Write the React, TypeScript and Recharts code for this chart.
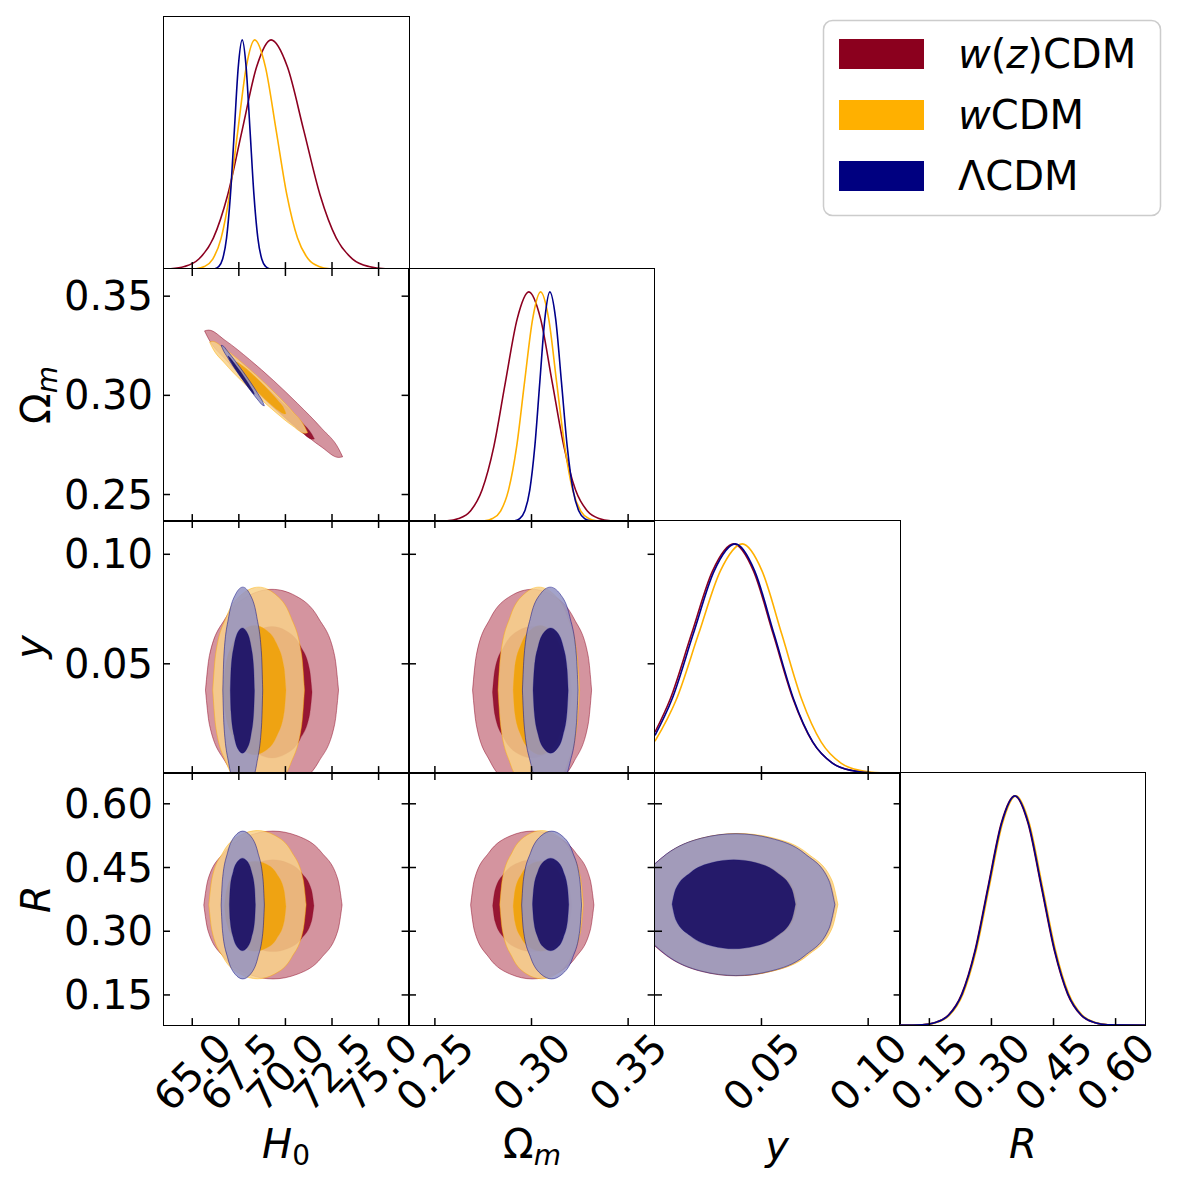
import React from 'react';
import { ComposedChart, Area, Line, XAxis, YAxis } from 'recharts';

const FONT = "'DejaVu Sans', sans-serif";
const TICK_FONT = 40;
const TITLE_FONT = 40;

// model colours
const RED = '#8c0020';
const ORANGE = '#ffb000';
const NAVY = '#00008b';

const FILL_OUTER: Record<string, string> = { red: '#cd818e', orange: '#f8d189', blue: '#9393c2' };
const FILL_INNER: Record<string, string> = { red: '#8c0020', orange: '#f0a000', blue: '#0f055f' };
const EDGE: Record<string, string> = { red: RED, orange: ORANGE, blue: '#000080' };
const LINE: Record<string, string> = { red: RED, orange: ORANGE, blue: NAVY };

// grid geometry (page pixels)
const COL_LEFT = [163.3, 408.9, 654.5, 900.1];
const ROW_TOP = [16.5, 268.7, 520.9, 773.1];
const PLOT_W = 245.6;
const PLOT_H = 252.1;
const PAD = 3;
const TICK = 7;
const FRAME_W = 1.6;

// parameter ranges and ticks
const H0_DOMAIN = [63.43, 76.61];
const OM_DOMAIN = [0.2366, 0.3637];
const Y_DOMAIN = [0.0001, 0.1152];
const R_DOMAIN = [0.079, 0.6725];
const PDF_DOMAIN = [0, 1.1];

const H0_TICKS = [65, 67.5, 70, 72.5, 75];
const OM_TICKS = [0.25, 0.3, 0.35];
const Y_TICKS = [0.05, 0.1];
const R_TICKS = [0.15, 0.3, 0.45, 0.6];

// 1D marginals, [value, relative density]
const h0Red = [[63.43, 0], [63.8, 0.0015], [64.58, 0.0111], [65.355, 0.0439], [66.13, 0.1353], [66.905, 0.3247], [67.68, 0.6065], [68.455, 0.8825], [69.23, 1], [70.105, 0.8825], [70.98, 0.6065], [71.855, 0.3247], [72.73, 0.1353], [73.605, 0.0439], [74.48, 0.0111], [75.36, 0.0015], [76.6, 0]];
const h0Orange = [[64.9, 0], [65.2, 0.0015], [65.65, 0.0111], [66.1, 0.0439], [66.55, 0.1353], [67.0, 0.3247], [67.45, 0.6065], [67.9, 0.8825], [68.35, 1], [68.925, 0.8825], [69.5, 0.6065], [70.075, 0.3247], [70.65, 0.1353], [71.225, 0.0439], [71.8, 0.0111], [72.375, 0.0015], [72.9, 0]];
const h0Blue = [[66.0, 0], [66.21, 0.0015], [66.42, 0.0111], [66.63, 0.0439], [66.84, 0.1353], [67.05, 0.3247], [67.26, 0.6065], [67.47, 0.8825], [67.68, 1], [67.89, 0.8825], [68.1, 0.6065], [68.31, 0.3247], [68.52, 0.1353], [68.73, 0.0439], [68.94, 0.0111], [69.15, 0.0015], [69.36, 0]];

const omRed = [[0.249, 0], [0.2563, 0.0015], [0.2623, 0.0111], [0.2684, 0.0439], [0.2744, 0.1353], [0.2805, 0.3247], [0.2865, 0.6065], [0.2926, 0.8825], [0.2986, 1], [0.3047, 0.8825], [0.3107, 0.6065], [0.3168, 0.3247], [0.3228, 0.1353], [0.3289, 0.0439], [0.3349, 0.0111], [0.341, 0.0015], [0.348, 0]];
const omOrange = [[0.2715, 0], [0.2757, 0.0015], [0.2798, 0.0111], [0.284, 0.0439], [0.2881, 0.1353], [0.2923, 0.3247], [0.2964, 0.6065], [0.3006, 0.8825], [0.3047, 1], [0.3089, 0.8825], [0.313, 0.6065], [0.3172, 0.3247], [0.3213, 0.1353], [0.3255, 0.0439], [0.3296, 0.0111], [0.3338, 0.0015], [0.338, 0]];
const omBlue = [[0.289, 0], [0.2913, 0.0015], [0.2939, 0.0111], [0.2965, 0.0439], [0.2991, 0.1353], [0.3017, 0.3247], [0.3043, 0.6065], [0.3069, 0.8825], [0.3095, 1], [0.3125, 0.8825], [0.3155, 0.6065], [0.3185, 0.3247], [0.3215, 0.1353], [0.3245, 0.0439], [0.3275, 0.0111], [0.3305, 0.0015], [0.3335, 0]];

const yRed = [[0.0001, 0.179], [0.0073, 0.3247], [0.0172, 0.6065], [0.0271, 0.8825], [0.037, 1], [0.04625, 0.8825], [0.0555, 0.6065], [0.06475, 0.3247], [0.074, 0.1353], [0.08325, 0.0439], [0.0925, 0.0111], [0.10175, 0.0015], [0.1152, 0]];
const yOrange = [[0.0001, 0.139], [0.01025, 0.3247], [0.0205, 0.6065], [0.03075, 0.8825], [0.041, 1], [0.05025, 0.8825], [0.0595, 0.6065], [0.06875, 0.3247], [0.078, 0.1353], [0.08725, 0.0439], [0.0965, 0.0111], [0.10575, 0.0015], [0.1152, 0]];
const yBlue = [[0.0001, 0.165], [0.00815, 0.3247], [0.018, 0.6065], [0.02785, 0.8825], [0.0377, 1], [0.0468, 0.8825], [0.0559, 0.6065], [0.065, 0.3247], [0.0741, 0.1353], [0.0832, 0.0439], [0.0923, 0.0111], [0.1014, 0.0015], [0.1152, 0]];

const rRed = [[0.079, 0], [0.132, 0.0015], [0.164, 0.0111], [0.196, 0.0439], [0.228, 0.1353], [0.26, 0.3247], [0.292, 0.6065], [0.324, 0.8825], [0.356, 1], [0.388, 0.8825], [0.42, 0.6065], [0.452, 0.3247], [0.484, 0.1353], [0.516, 0.0439], [0.548, 0.0111], [0.58, 0.0015], [0.6725, 0]];
const rOrange = [[0.079, 0], [0.135, 0.0015], [0.167, 0.0111], [0.199, 0.0439], [0.231, 0.1353], [0.263, 0.3247], [0.295, 0.6065], [0.327, 0.8825], [0.359, 1], [0.391, 0.8825], [0.423, 0.6065], [0.455, 0.3247], [0.487, 0.1353], [0.519, 0.0439], [0.551, 0.0111], [0.583, 0.0015], [0.6725, 0]];
const rBlue = [[0.079, 0], [0.133, 0.0015], [0.165, 0.0111], [0.197, 0.0439], [0.229, 0.1353], [0.261, 0.3247], [0.293, 0.6065], [0.325, 0.8825], [0.357, 1], [0.389, 0.8825], [0.421, 0.6065], [0.453, 0.3247], [0.485, 0.1353], [0.517, 0.0439], [0.549, 0.0111], [0.581, 0.0015], [0.6725, 0]];

// 2D credible regions, [x, lower, upper] of each 68% / 95% contour
const omH0RedOuter = [[65.66, 0.3325, 0.3325], [65.88, 0.3284, 0.3329], [66.77, 0.3183, 0.3277], [68.07, 0.3057, 0.3181], [69.37, 0.2942, 0.3074], [70.66, 0.2834, 0.2958], [71.96, 0.2738, 0.2832], [72.85, 0.2687, 0.2732], [73.07, 0.269, 0.269]];
const omH0RedInner = [[67.18, 0.3161, 0.3161], [67.31, 0.3138, 0.3162], [67.84, 0.3079, 0.3129], [68.6, 0.3004, 0.307], [69.37, 0.2936, 0.3006], [70.14, 0.2871, 0.2937], [70.9, 0.2812, 0.2862], [71.43, 0.2779, 0.2803], [71.56, 0.278, 0.278]];
const omH0OrangeOuter = [[65.93, 0.3269, 0.3269], [66.09, 0.3238, 0.3272], [66.72, 0.3164, 0.3236], [67.64, 0.3073, 0.3167], [68.56, 0.2991, 0.3091], [69.48, 0.2914, 0.3008], [70.4, 0.2845, 0.2917], [71.03, 0.2809, 0.2843], [71.19, 0.2812, 0.2812]];
const omH0OrangeInner = [[67.27, 0.3165, 0.3165], [67.35, 0.3146, 0.3168], [67.68, 0.3103, 0.3151], [68.17, 0.3051, 0.3113], [68.65, 0.3004, 0.307], [69.13, 0.2961, 0.3023], [69.62, 0.2923, 0.2971], [69.95, 0.2906, 0.2928], [70.03, 0.2909, 0.2909]];
const omH0BlueOuter = [[66.55, 0.3252, 0.3252], [66.62, 0.3236, 0.3251], [66.9, 0.319, 0.3222], [67.3, 0.3132, 0.3174], [67.71, 0.3078, 0.3122], [68.12, 0.3025, 0.3067], [68.52, 0.2977, 0.3009], [68.8, 0.2949, 0.2964], [68.87, 0.2947, 0.2947]];
const omH0BlueInner = [[66.91, 0.3199, 0.3199], [66.95, 0.3189, 0.3197], [67.12, 0.3161, 0.3179], [67.37, 0.3124, 0.3148], [67.63, 0.3089, 0.3115], [67.88, 0.3056, 0.308], [68.13, 0.3025, 0.3043], [68.3, 0.3007, 0.3015], [68.34, 0.3005, 0.3005]];

const yH0RedOuter = [[65.71, 0.038, 0.038], [65.92, 0.0223, 0.0537], [66.78, 0.0052, 0.0708], [68.03, -0.0051, 0.0811], [69.28, -0.008, 0.084], [70.53, -0.0051, 0.0811], [71.78, 0.0052, 0.0708], [72.64, 0.0223, 0.0537], [72.85, 0.038, 0.038]];
const yH0RedInner = [[67.13, 0.037, 0.037], [67.26, 0.0268, 0.0472], [67.78, 0.0156, 0.0584], [68.53, 0.0089, 0.0651], [69.28, 0.007, 0.067], [70.03, 0.0089, 0.0651], [70.79, 0.0156, 0.0584], [71.3, 0.0268, 0.0472], [71.43, 0.037, 0.037]];
const yH0OrangeOuter = [[66.1, 0.038, 0.038], [66.25, 0.022, 0.054], [66.84, 0.0044, 0.0716], [67.7, -0.006, 0.082], [68.56, -0.009, 0.085], [69.42, -0.006, 0.082], [70.28, 0.0044, 0.0716], [70.87, 0.022, 0.054], [71.02, 0.038, 0.038]];
const yH0OrangeInner = [[66.67, 0.038, 0.038], [66.77, 0.0279, 0.0481], [67.17, 0.0169, 0.0591], [67.76, 0.0104, 0.0656], [68.35, 0.0085, 0.0675], [68.94, 0.0104, 0.0656], [69.53, 0.0169, 0.0591], [69.93, 0.0279, 0.0481], [70.03, 0.038, 0.038]];
const yH0BlueOuter = [[66.64, 0.038, 0.038], [66.7, 0.022, 0.054], [66.96, 0.0044, 0.0716], [67.34, -0.006, 0.082], [67.71, -0.009, 0.085], [68.08, -0.006, 0.082], [68.46, 0.0044, 0.0716], [68.72, 0.022, 0.054], [68.78, 0.038, 0.038]];
const yH0BlueInner = [[67.04, 0.0378, 0.0378], [67.08, 0.0281, 0.0476], [67.24, 0.0174, 0.0582], [67.46, 0.011, 0.0646], [67.69, 0.0092, 0.0664], [67.92, 0.011, 0.0646], [68.15, 0.0174, 0.0582], [68.3, 0.0281, 0.0476], [68.34, 0.0378, 0.0378]];

const yOmRedOuter = [[0.2695, 0.038, 0.038], [0.2714, 0.0223, 0.0537], [0.2787, 0.0052, 0.0708], [0.2895, -0.0051, 0.0811], [0.3003, -0.008, 0.084], [0.3111, -0.0051, 0.0811], [0.3219, 0.0052, 0.0708], [0.3293, 0.0223, 0.0537], [0.3311, 0.038, 0.038]];
const yOmRedInner = [[0.2798, 0.037, 0.037], [0.281, 0.0268, 0.0472], [0.286, 0.0156, 0.0584], [0.2931, 0.0089, 0.0651], [0.3003, 0.007, 0.067], [0.3075, 0.0089, 0.0651], [0.3147, 0.0156, 0.0584], [0.3196, 0.0268, 0.0472], [0.3208, 0.037, 0.037]];
const yOmOrangeOuter = [[0.2827, 0.038, 0.038], [0.284, 0.022, 0.054], [0.289, 0.0044, 0.0716], [0.2964, -0.006, 0.082], [0.3038, -0.009, 0.085], [0.3112, -0.006, 0.082], [0.3186, 0.0044, 0.0716], [0.3236, 0.022, 0.054], [0.3249, 0.038, 0.038]];
const yOmOrangeInner = [[0.2905, 0.038, 0.038], [0.2913, 0.0279, 0.0481], [0.2947, 0.0169, 0.0591], [0.2996, 0.0104, 0.0656], [0.3045, 0.0085, 0.0675], [0.3094, 0.0104, 0.0656], [0.3143, 0.0169, 0.0591], [0.3177, 0.0279, 0.0481], [0.3185, 0.038, 0.038]];
const yOmBlueOuter = [[0.2953, 0.038, 0.038], [0.2962, 0.022, 0.054], [0.2996, 0.0044, 0.0716], [0.3047, -0.006, 0.082], [0.3097, -0.009, 0.085], [0.3147, -0.006, 0.082], [0.3198, 0.0044, 0.0716], [0.3232, 0.022, 0.054], [0.3241, 0.038, 0.038]];
const yOmBlueInner = [[0.3008, 0.0378, 0.0378], [0.3014, 0.0281, 0.0476], [0.3035, 0.0174, 0.0582], [0.3067, 0.011, 0.0646], [0.3099, 0.0092, 0.0664], [0.3131, 0.011, 0.0646], [0.3163, 0.0174, 0.0582], [0.3184, 0.0281, 0.0476], [0.319, 0.0378, 0.0378]];

const rH0RedOuter = [[65.62, 0.3617, 0.3617], [65.84, 0.3024, 0.421], [66.73, 0.2375, 0.4859], [68.03, 0.1987, 0.5247], [69.33, 0.1877, 0.5357], [70.63, 0.1987, 0.5247], [71.93, 0.2375, 0.4859], [72.82, 0.3024, 0.421], [73.04, 0.3617, 0.3617]];
const rH0RedInner = [[67.13, 0.36, 0.36], [67.26, 0.3232, 0.3968], [67.79, 0.2829, 0.4371], [68.56, 0.2588, 0.4612], [69.33, 0.252, 0.468], [70.1, 0.2588, 0.4612], [70.87, 0.2829, 0.4371], [71.4, 0.3232, 0.3968], [71.53, 0.36, 0.36]];
const rH0OrangeOuter = [[65.89, 0.3625, 0.3625], [66.05, 0.303, 0.422], [66.67, 0.2379, 0.4871], [67.59, 0.199, 0.526], [68.5, 0.188, 0.537], [69.41, 0.199, 0.526], [70.33, 0.2379, 0.4871], [70.95, 0.303, 0.422], [71.11, 0.3625, 0.3625]];
const rH0OrangeInner = [[66.73, 0.359, 0.359], [66.83, 0.3229, 0.3951], [67.23, 0.2833, 0.4347], [67.8, 0.2597, 0.4583], [68.38, 0.253, 0.465], [68.96, 0.2597, 0.4583], [69.54, 0.2833, 0.4347], [69.93, 0.3229, 0.3951], [70.03, 0.359, 0.359]];
const rH0BlueOuter = [[66.55, 0.3617, 0.3617], [66.62, 0.3024, 0.421], [66.9, 0.2375, 0.4859], [67.3, 0.1987, 0.5247], [67.71, 0.1877, 0.5357], [68.12, 0.1987, 0.5247], [68.52, 0.2375, 0.4859], [68.8, 0.3024, 0.421], [68.87, 0.3617, 0.3617]];
const rH0BlueInner = [[66.99, 0.363, 0.363], [67.03, 0.3258, 0.4002], [67.2, 0.2852, 0.4408], [67.45, 0.2609, 0.4651], [67.69, 0.254, 0.472], [67.94, 0.2609, 0.4651], [68.18, 0.2852, 0.4408], [68.35, 0.3258, 0.4002], [68.39, 0.363, 0.363]];

const rOmRedOuter = [[0.2685, 0.3617, 0.3617], [0.2704, 0.3024, 0.421], [0.2781, 0.2375, 0.4859], [0.2892, 0.1987, 0.5247], [0.3004, 0.1877, 0.5357], [0.3116, 0.1987, 0.5247], [0.3227, 0.2375, 0.4859], [0.3304, 0.3024, 0.421], [0.3323, 0.3617, 0.3617]];
const rOmRedInner = [[0.2799, 0.36, 0.36], [0.2811, 0.3232, 0.3968], [0.286, 0.2829, 0.4371], [0.2932, 0.2588, 0.4612], [0.3004, 0.252, 0.468], [0.3076, 0.2588, 0.4612], [0.3148, 0.2829, 0.4371], [0.3197, 0.3232, 0.3968], [0.3209, 0.36, 0.36]];
const rOmOrangeOuter = [[0.2836, 0.3625, 0.3625], [0.2849, 0.303, 0.422], [0.2901, 0.2379, 0.4871], [0.2976, 0.199, 0.526], [0.3052, 0.188, 0.537], [0.3128, 0.199, 0.526], [0.3203, 0.2379, 0.4871], [0.3255, 0.303, 0.422], [0.3268, 0.3625, 0.3625]];
const rOmOrangeInner = [[0.2905, 0.359, 0.359], [0.2914, 0.3229, 0.3951], [0.2948, 0.2833, 0.4347], [0.2998, 0.2597, 0.4583], [0.3048, 0.253, 0.465], [0.3098, 0.2597, 0.4583], [0.3148, 0.2833, 0.4347], [0.3182, 0.3229, 0.3951], [0.3191, 0.359, 0.359]];
const rOmBlueOuter = [[0.2949, 0.3617, 0.3617], [0.2958, 0.3024, 0.421], [0.2996, 0.2375, 0.4859], [0.305, 0.1987, 0.5247], [0.3104, 0.1877, 0.5357], [0.3158, 0.1987, 0.5247], [0.3213, 0.2375, 0.4859], [0.325, 0.3024, 0.421], [0.3259, 0.3617, 0.3617]];
const rOmBlueInner = [[0.3005, 0.363, 0.363], [0.3011, 0.3258, 0.4002], [0.3033, 0.2852, 0.4408], [0.3066, 0.2609, 0.4651], [0.3099, 0.254, 0.472], [0.3132, 0.2609, 0.4651], [0.3165, 0.2852, 0.4408], [0.3187, 0.3258, 0.4002], [0.3193, 0.363, 0.363]];

// the 95% regions in R vs y run past y = 0, so they start at the panel edge
const rYRedOuter = [[0.0001, 0.2649, 0.4591], [0.0054, 0.2428, 0.4812], [0.0218, 0.2055, 0.5186], [0.0381, 0.195, 0.5292], [0.0544, 0.2055, 0.5186], [0.0708, 0.2428, 0.4812], [0.082, 0.305, 0.419], [0.0848, 0.362, 0.362]];
const rYRedInner = [[0.0076, 0.3634, 0.3634], [0.0093, 0.3276, 0.3992], [0.0163, 0.2885, 0.4383], [0.0264, 0.2651, 0.4617], [0.0365, 0.2585, 0.4683], [0.0466, 0.2651, 0.4617], [0.0567, 0.2885, 0.4383], [0.0637, 0.3276, 0.3992], [0.0654, 0.3634, 0.3634]];
const rYOrangeOuter = [[0.0001, 0.2696, 0.4564], [0.006, 0.2437, 0.4823], [0.0224, 0.2064, 0.5196], [0.0389, 0.1958, 0.5302], [0.0554, 0.2064, 0.5196], [0.0718, 0.2437, 0.4823], [0.083, 0.306, 0.42], [0.0858, 0.363, 0.363]];
const rYOrangeInner = [[0.0089, 0.3634, 0.3634], [0.0106, 0.3276, 0.3992], [0.0176, 0.2885, 0.4383], [0.0277, 0.2651, 0.4617], [0.0378, 0.2585, 0.4683], [0.0479, 0.2651, 0.4617], [0.058, 0.2885, 0.4383], [0.065, 0.3276, 0.3992], [0.0667, 0.3634, 0.3634]];
const rYBlueOuter = [[0.0001, 0.2662, 0.459], [0.0055, 0.2434, 0.4818], [0.0218, 0.2061, 0.5191], [0.038, 0.1956, 0.5296], [0.0542, 0.2061, 0.5191], [0.0705, 0.2434, 0.4818], [0.0816, 0.3057, 0.4195], [0.0844, 0.3626, 0.3626]];
const rYBlueInner = [[0.0081, 0.3634, 0.3634], [0.0098, 0.3276, 0.3992], [0.0168, 0.2885, 0.4383], [0.0269, 0.2651, 0.4617], [0.037, 0.2585, 0.4683], [0.0471, 0.2651, 0.4617], [0.0572, 0.2885, 0.4383], [0.0642, 0.3276, 0.3992], [0.0659, 0.3634, 0.3634]];

type Fmt = (v: number) => string;

const PARAMS: { domain: number[]; ticks: number[]; fmt: Fmt }[] = [
  { domain: H0_DOMAIN, ticks: H0_TICKS, fmt: (v) => v.toFixed(1) },
  { domain: OM_DOMAIN, ticks: OM_TICKS, fmt: (v) => v.toFixed(2) },
  { domain: Y_DOMAIN, ticks: Y_TICKS, fmt: (v) => v.toFixed(2) },
  { domain: R_DOMAIN, ticks: R_TICKS, fmt: (v) => v.toFixed(2) },
];

const MARGINALS: [string, number[][]][][] = [
  [['red', h0Red], ['orange', h0Orange], ['blue', h0Blue]],
  [['red', omRed], ['orange', omOrange], ['blue', omBlue]],
  [['red', yRed], ['orange', yOrange], ['blue', yBlue]],
  [['red', rRed], ['orange', rOrange], ['blue', rBlue]],
];

// drawing order: red, orange, blue; outer region before inner
const CONTOURS: Record<string, [string, string, number[][]][]> = {
  '1-0': [['red', 'outer', omH0RedOuter], ['red', 'inner', omH0RedInner], ['orange', 'outer', omH0OrangeOuter], ['orange', 'inner', omH0OrangeInner], ['blue', 'outer', omH0BlueOuter], ['blue', 'inner', omH0BlueInner]],
  '2-0': [['red', 'outer', yH0RedOuter], ['red', 'inner', yH0RedInner], ['orange', 'outer', yH0OrangeOuter], ['orange', 'inner', yH0OrangeInner], ['blue', 'outer', yH0BlueOuter], ['blue', 'inner', yH0BlueInner]],
  '2-1': [['red', 'outer', yOmRedOuter], ['red', 'inner', yOmRedInner], ['orange', 'outer', yOmOrangeOuter], ['orange', 'inner', yOmOrangeInner], ['blue', 'outer', yOmBlueOuter], ['blue', 'inner', yOmBlueInner]],
  '3-0': [['red', 'outer', rH0RedOuter], ['red', 'inner', rH0RedInner], ['orange', 'outer', rH0OrangeOuter], ['orange', 'inner', rH0OrangeInner], ['blue', 'outer', rH0BlueOuter], ['blue', 'inner', rH0BlueInner]],
  '3-1': [['red', 'outer', rOmRedOuter], ['red', 'inner', rOmRedInner], ['orange', 'outer', rOmOrangeOuter], ['orange', 'inner', rOmOrangeInner], ['blue', 'outer', rOmBlueOuter], ['blue', 'inner', rOmBlueInner]],
  '3-2': [['red', 'outer', rYRedOuter], ['red', 'inner', rYRedInner], ['orange', 'outer', rYOrangeOuter], ['orange', 'inner', rYOrangeInner], ['blue', 'outer', rYBlueOuter], ['blue', 'inner', rYBlueInner]],
};

const toRange = (rows: number[][]) => rows.map(([x, lo, hi]) => ({ x, r: [lo, hi] }));
const toCurve = (rows: number[][]) => rows.map(([x, v]) => ({ x, v }));

function Panel({ row, col }: { row: number; col: number }) {
  const diag = row === col;
  const xp = PARAMS[col];
  const yp = diag ? null : PARAMS[row];
  const yw = col === 0 && !diag ? 160 : 0;
  const xh = row === 3 ? 110 : 0;
  // axes need at least 1px to be drawn, the margin gives that pixel back
  const W = PLOT_W + 2 * PAD + yw;
  const H = PLOT_H + 2 * PAD + xh;
  const pl = PAD + yw;
  const pt = PAD;
  const pr = pl + PLOT_W;
  const pb = pt + PLOT_H;

  const bottomTick = (p: any) => {
    const cy = pb + 47;
    return (
      <g>
        <line x1={p.x} x2={p.x} y1={pb} y2={pb - TICK} stroke="#000" strokeWidth={1.5} />
        {!diag && <line x1={p.x} x2={p.x} y1={pt} y2={pt + TICK} stroke="#000" strokeWidth={1.5} />}
        {row === 3 && (
          <text x={p.x} y={cy} transform={`rotate(-45 ${p.x} ${cy})`} textAnchor="middle"
            dominantBaseline="central" fontFamily={FONT} fontSize={TICK_FONT} fill="#000">
            {xp.fmt(p.payload.value)}
          </text>
        )}
      </g>
    );
  };
  const leftTick = (p: any) => (
    <g>
      <line x1={pl} x2={pl + TICK} y1={p.y} y2={p.y} stroke="#000" strokeWidth={1.5} />
      <line x1={pr} x2={pr - TICK} y1={p.y} y2={p.y} stroke="#000" strokeWidth={1.5} />
      {col === 0 && yp && (
        <text x={pl - 10} y={p.y} textAnchor="end" dominantBaseline="central"
          fontFamily={FONT} fontSize={TICK_FONT} fill="#000">
          {yp.fmt(p.payload.value)}
        </text>
      )}
    </g>
  );

  const yDomain = yp ? yp.domain : PDF_DOMAIN;
  const contours = CONTOURS[`${row}-${col}`] || [];

  return (
    <>
      <div style={{ position: 'absolute', left: COL_LEFT[col] - PAD - yw, top: ROW_TOP[row] - PAD }}>
        <ComposedChart width={W} height={H}
          margin={{ top: PAD, right: PAD, bottom: xh ? PAD : PAD - 1, left: yw ? PAD : PAD - 1 }}>
          <XAxis xAxisId="b" type="number" dataKey="x" domain={xp.domain} allowDataOverflow
            ticks={xp.ticks} interval={0} height={xh || 1} tickLine={false} tickSize={0} tickMargin={0}
            axisLine={false} tick={bottomTick} />
          <YAxis yAxisId="l" type="number" domain={yDomain} allowDataOverflow
            ticks={yp ? yp.ticks : []} interval={0} width={yw || 1} tickLine={false} tickSize={0} tickMargin={0}
            axisLine={false} tick={diag ? false : leftTick} />
          {contours.map(([model, level, rows]) => (
            <Area key={`${model}-${level}`} xAxisId="b" yAxisId="l" data={toRange(rows)} dataKey="r"
              type="monotone" fill={level === 'outer' ? FILL_OUTER[model] : FILL_INNER[model]}
              fillOpacity={0.85} stroke={EDGE[model]} strokeOpacity={level === 'outer' ? 0.6 : 0.3}
              strokeWidth={0.8} dot={false} activeDot={false} isAnimationActive={false} />
          ))}
          {diag && MARGINALS[col].map(([model, rows]) => (
            <Line key={model} xAxisId="b" yAxisId="l" data={toCurve(rows)} dataKey="v" type="monotone"
              stroke={LINE[model]} strokeWidth={1.6} dot={false} activeDot={false} isAnimationActive={false} />
          ))}
        </ComposedChart>
      </div>
      {/* panel frame */}
      <div style={{
        position: 'absolute', left: COL_LEFT[col] - FRAME_W / 2, top: ROW_TOP[row] - FRAME_W / 2,
        width: PLOT_W + FRAME_W, height: PLOT_H + FRAME_W, boxSizing: 'border-box',
        border: `${FRAME_W}px solid #000`, pointerEvents: 'none',
      }} />
    </>
  );
}

const CELLS: [number, number][] = [];
for (let r = 0; r < 4; r++) for (let c = 0; c <= r; c++) CELLS.push([r, c]);

const LEGEND: [string, string][] = [
  ['#8b001e', 'w(z)CDM'],
  ['#ffb000', 'wCDM'],
  ['#000080', 'ΛCDM'],
];

function LegendLabel({ text }: { text: string }) {
  if (text === 'w(z)CDM') {
    return (<><tspan fontStyle="italic">w</tspan>(<tspan fontStyle="italic">z</tspan>)CDM</>);
  }
  if (text === 'wCDM') {
    return (<><tspan fontStyle="italic">w</tspan>CDM</>);
  }
  return <>{text}</>;
}

export default function App() {
  return (
    <div style={{ position: 'absolute', left: 0, top: 0, width: 1182, height: 1184, background: '#fff', fontFamily: FONT }}>
      <style>{'.recharts-surface { overflow: visible; }'}</style>
      {CELLS.map(([r, c]) => <Panel key={`${r}-${c}`} row={r} col={c} />)}
      <svg width={1182} height={1184} style={{ position: 'absolute', left: 0, top: 0, pointerEvents: 'none' }}
        fontFamily={FONT} fill="#000">
        {/* axis titles */}
        <text x={286} y={1158} textAnchor="middle" fontSize={TITLE_FONT}>
          <tspan fontStyle="italic">H</tspan><tspan fontSize={28} dy={7}>0</tspan>
        </text>
        <text x={532} y={1158} textAnchor="middle" fontSize={TITLE_FONT}>
          Ω<tspan fontStyle="italic" fontSize={28} dy={7}>m</tspan>
        </text>
        <text x={777} y={1160} textAnchor="middle" fontSize={TITLE_FONT} fontStyle="italic">y</text>
        <text x={1023} y={1158} textAnchor="middle" fontSize={TITLE_FONT} fontStyle="italic">R</text>
        <text x={50} y={395} textAnchor="middle" fontSize={TITLE_FONT} transform="rotate(-90 50 395)">
          Ω<tspan fontStyle="italic" fontSize={28} dy={7}>m</tspan>
        </text>
        <text x={44} y={647} textAnchor="middle" fontSize={TITLE_FONT} fontStyle="italic" transform="rotate(-90 44 647)">y</text>
        <text x={50} y={899} textAnchor="middle" fontSize={TITLE_FONT} fontStyle="italic" transform="rotate(-90 50 899)">R</text>

        {/* legend */}
        <rect x={823.5} y={20.5} width={337} height={195} rx={9} fill="#fff" stroke="#cccccc" strokeWidth={1.5} />
        {LEGEND.map(([color, label], i) => (
          <g key={label}>
            <rect x={839} y={39 + i * 61} width={85} height={30} fill={color} />
            <text x={958} y={54 + i * 61} dominantBaseline="central" fontSize={TITLE_FONT}>
              <LegendLabel text={label} />
            </text>
          </g>
        ))}
      </svg>
    </div>
  );
}
